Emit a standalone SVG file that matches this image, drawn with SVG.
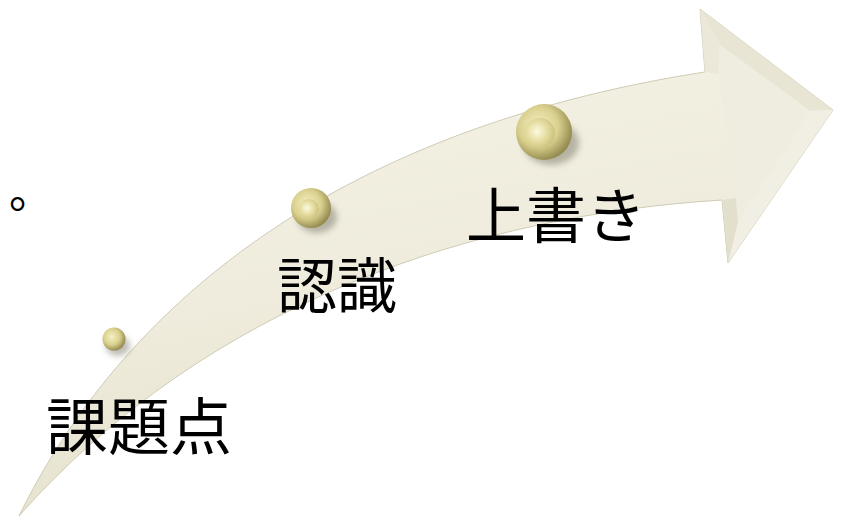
<svg xmlns="http://www.w3.org/2000/svg" width="841" height="518" viewBox="0 0 841 518">
<style>
.lbl{font-family:"Noto Sans CJK JP","Noto Sans CJK SC",sans-serif;fill:#000;}
</style>
<defs>
<linearGradient id="body" x1="0" y1="0" x2="0.3" y2="1">
<stop offset="0" stop-color="#f6f4e8"/>
<stop offset="0.6" stop-color="#efecdd"/>
<stop offset="1" stop-color="#e4e1cd"/>
</linearGradient>
<radialGradient id="ballOuter" cx="0.4" cy="0.4" r="0.65">
<stop offset="0" stop-color="#f5f0c4"/>
<stop offset="0.55" stop-color="#d9d08e"/>
<stop offset="1" stop-color="#8c8248"/>
</radialGradient>
<radialGradient id="ballInner" cx="0.4" cy="0.45" r="0.6">
<stop offset="0" stop-color="#fcfae2"/>
<stop offset="0.5" stop-color="#e8e0a6"/>
<stop offset="1" stop-color="#cdc27e"/>
</radialGradient>
<filter id="sh" x="-50%" y="-50%" width="200%" height="200%">
<feGaussianBlur stdDeviation="3"/>
</filter>
</defs>
<g id="arrow">
<path d="M 19 516 C 120 310, 330 130, 705 72 L 700 9 L 833 110 L 728 263 L 722 200 C 480 215, 210 300, 19 516 Z" fill="url(#body)" stroke="#cfcbb4" stroke-width="1"/>
<polygon points="705,72 700,9 720,45 718,74" fill="#ebe8d9"/>
<polygon points="700,9 833,110 810,111 720,45" fill="#e8e5d4"/>
<polygon points="833,110 728,263 738,222 810,111" fill="#f1efe4"/>
<polygon points="728,263 722,200 736,198 738,222" fill="#e2dfcd"/>
<polygon points="720,45 810,111 738,222 736,198 718,74" fill="#efede0"/>
</g>
<g id="ball1">
<ellipse cx="118" cy="346" rx="12" ry="10" fill="#6d6a58" opacity="0.45" filter="url(#sh)"/>
<circle cx="114" cy="339" r="11.5" fill="url(#ballOuter)"/>
</g>
<g id="ball2">
<ellipse cx="317" cy="217" rx="20" ry="16" fill="#6d6a58" opacity="0.45" filter="url(#sh)"/>
<circle cx="311" cy="208" r="20" fill="url(#ballOuter)"/>
<circle cx="309" cy="209" r="10" fill="url(#ballInner)"/>
</g>
<g id="ball3">
<ellipse cx="551" cy="143" rx="28" ry="22" fill="#6d6a58" opacity="0.45" filter="url(#sh)"/>
<circle cx="544" cy="132" r="28" fill="url(#ballOuter)"/>
<circle cx="540" cy="133" r="15" fill="url(#ballInner)"/>
</g>
<g id="labels">
<text class="lbl" x="46" y="450" font-size="62">課題点</text>
<text class="lbl" x="277" y="308" font-size="60">認識</text>
<text class="lbl" x="466" y="238" font-size="60">上書き</text>
<text class="lbl" x="9" y="208" font-size="44">。</text>
</g>
</svg>
